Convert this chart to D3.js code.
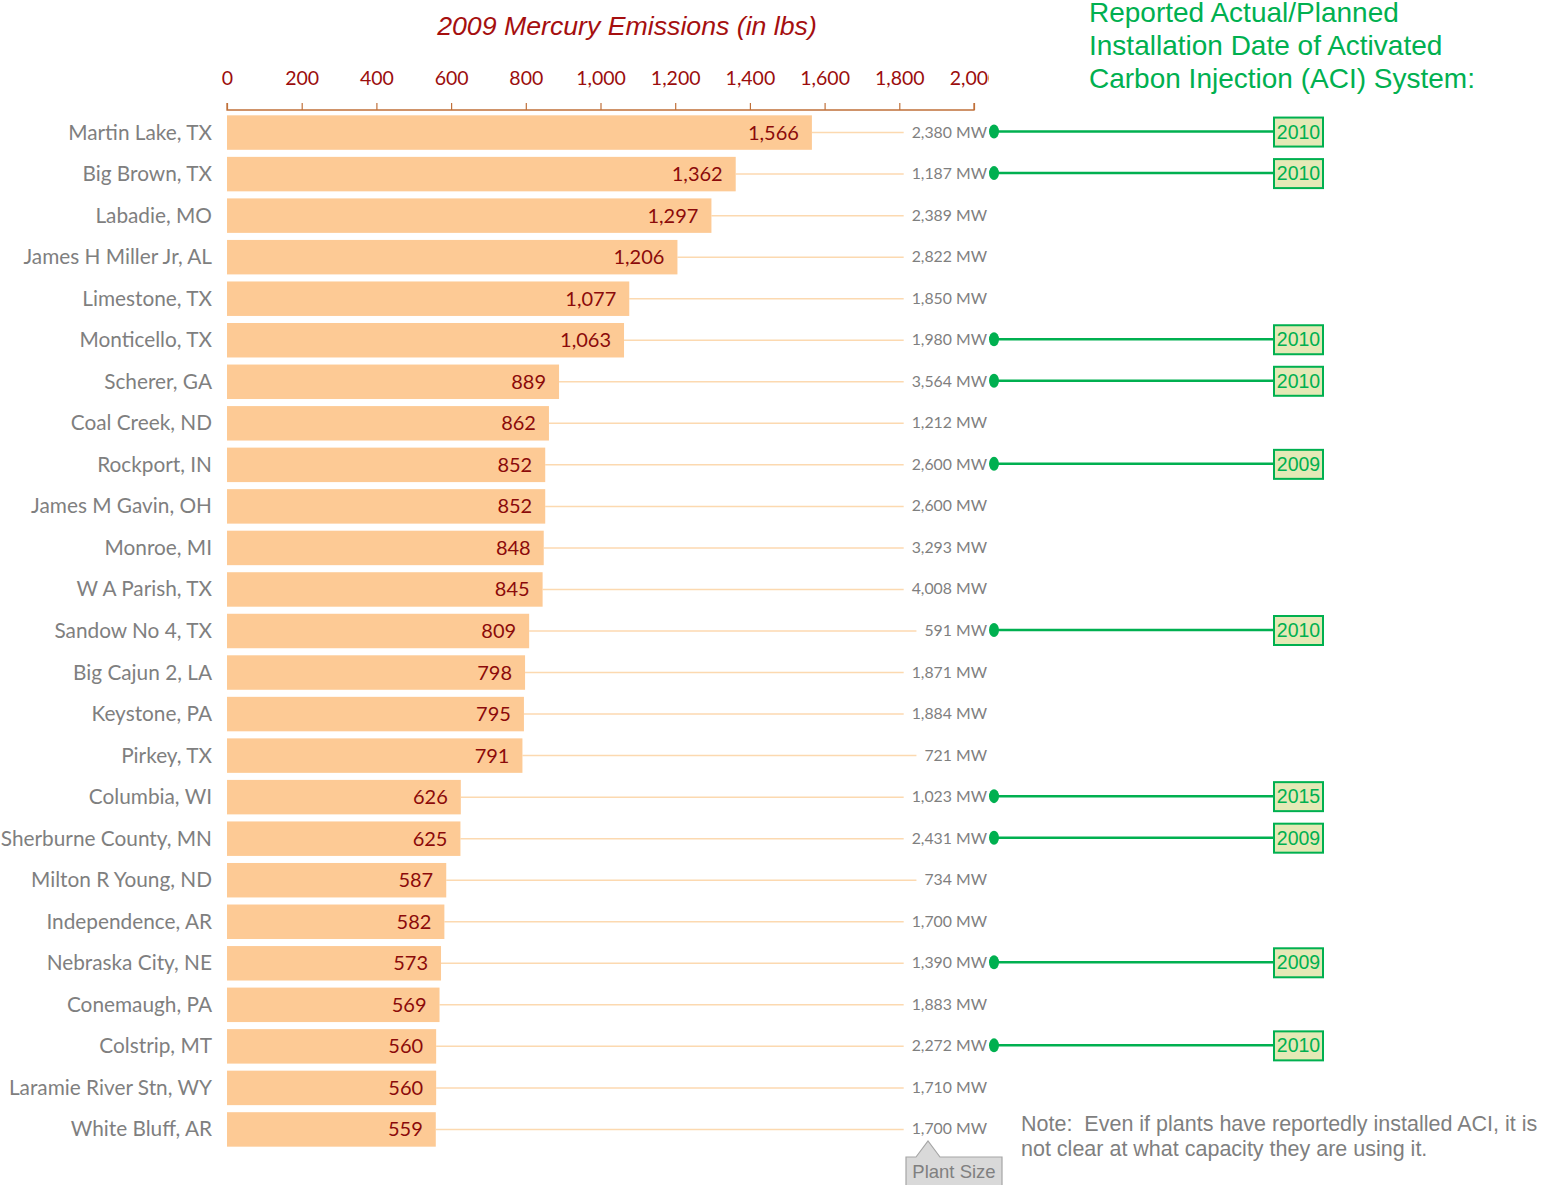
<!DOCTYPE html>
<html>
<head>
<meta charset="utf-8">
<script src="https://cdn.jsdelivr.net/npm/d3@7"></script>
<style>
  html, body { margin: 0; padding: 0; background: #fff; }
  svg { display: block; }
</style>
</head>
<body>
<svg id="chart" width="1541" height="1185"></svg>
<script>
// Plants ranked by 2009 mercury emissions
const plants = ["Martin Lake, TX", "Big Brown, TX", "Labadie, MO", "James H Miller Jr, AL", "Limestone, TX",
  "Monticello, TX", "Scherer, GA", "Coal Creek, ND", "Rockport, IN", "James M Gavin, OH", "Monroe, MI",
  "W A Parish, TX", "Sandow No 4, TX", "Big Cajun 2, LA", "Keystone, PA", "Pirkey, TX", "Columbia, WI",
  "Sherburne County, MN", "Milton R Young, ND", "Independence, AR", "Nebraska City, NE", "Conemaugh, PA",
  "Colstrip, MT", "Laramie River Stn, WY", "White Bluff, AR"];
// Mercury emissions, lbs
const emissions = [1566, 1362, 1297, 1206, 1077, 1063, 889, 862, 852, 852, 848, 845, 809, 798, 795, 791,
  626, 625, 587, 582, 573, 569, 560, 560, 559];
// Plant capacity, MW
const plantSize = [2380, 1187, 2389, 2822, 1850, 1980, 3564, 1212, 2600, 2600, 3293, 4008, 591, 1871, 1884,
  721, 1023, 2431, 734, 1700, 1390, 1883, 2272, 1710, 1700];
// Actual/planned ACI installation year (null = none reported)
const aciYear = [2010, 2010, null, null, null, 2010, 2010, null, 2009, null, null, null, 2010, null, null,
  null, 2015, 2009, null, null, 2009, null, 2010, null, null];
const xTicks = [0, 200, 400, 600, 800, 1000, 1200, 1400, 1600, 1800, 2000];

const svg = d3.select("#chart");
const fmt = d3.format(",");

const x = d3.scaleLinear().domain([0, 2000]).range([227, 974]);
const y = d3.scaleBand().domain(plants).range([112, 1150]).paddingInner(0.17).paddingOuter(0.08);

const catFont = "Lato, 'Open Sans', sans-serif";

// Title
svg.append("text")
  .attr("x", 627).attr("y", 35)
  .attr("text-anchor", "middle")
  .attr("font-family", "'Liberation Sans', Arial, sans-serif")
  .attr("font-style", "italic")
  .attr("font-size", 26.7)
  .attr("fill", "#a50f0f")
  .text("2009 Mercury Emissions (in lbs)");

// Top axis; the last label is clipped at the plot edge
svg.append("clipPath").attr("id", "axisClip")
  .append("rect").attr("x", 200).attr("y", 50).attr("width", 789).attr("height", 80);

const axisWrap = svg.append("g").attr("clip-path", "url(#axisClip)");
const axis = axisWrap.append("g")
  .attr("transform", "translate(0,110)")
  .call(d3.axisTop(x).tickValues(xTicks).tickFormat(fmt).tickSize(7).tickPadding(18));
axis.select(".domain").attr("stroke", "#c0703a").attr("stroke-width", 1.3)
  .attr("d", `M${x(0)},-7V0H${x(2000)}V-7`);
axis.selectAll(".tick line").attr("stroke", "#c0703a").attr("stroke-width", 1.2);
axis.selectAll(".tick text")
  .attr("font-family", catFont)
  .attr("font-size", 19.5)
  .attr("fill", "#9b0d0d");

const rows = svg.append("g");
const row = rows.selectAll("g.row")
  .data(plants.map((p, i) => ({ name: p, value: emissions[i], size: plantSize[i], year: aciYear[i] })))
  .join("g").attr("class", "row");

const cy = d => y(d.name) + y.bandwidth() / 2;

// Plant size labels (right aligned)
const sizeLabels = row.append("text")
  .attr("x", 987).attr("y", d => cy(d) + 5)
  .attr("text-anchor", "end")
  .attr("font-family", catFont)
  .attr("font-size", 15.8)
  .attr("fill", "#7f7f7f")
  .text(d => fmt(d.size) + " MW");

// Leader lines from bar end to size label
row.insert("line", "text")
  .attr("x1", d => x(d.value))
  .attr("x2", function(d, i) {
    const t = sizeLabels.nodes()[i];
    return 987 - t.getComputedTextLength() - 8;
  })
  .attr("y1", cy).attr("y2", cy)
  .attr("stroke", "#fcd9b0").attr("stroke-width", 1.5);

// Bars
row.append("rect")
  .attr("x", x(0))
  .attr("y", d => y(d.name))
  .attr("width", d => x(d.value) - x(0))
  .attr("height", y.bandwidth())
  .attr("fill", "#fdca95");

// Value labels inside bars
row.append("text")
  .attr("x", d => x(d.value) - 13)
  .attr("y", d => cy(d) + 7)
  .attr("text-anchor", "end")
  .attr("font-family", catFont)
  .attr("font-size", 20)
  .attr("fill", "#8b0a0a")
  .text(d => fmt(d.value));

// Category labels
row.append("text")
  .attr("x", 212)
  .attr("y", d => cy(d) + 7)
  .attr("text-anchor", "end")
  .attr("font-family", catFont)
  .attr("font-size", 20.8)
  .attr("fill", "#7f7f7f")
  .text(d => d.name);

// ACI installation connectors
const aci = row.filter(d => d.year !== null);
aci.append("line")
  .attr("x1", 993).attr("x2", 1274)
  .attr("y1", d => cy(d) - 1).attr("y2", d => cy(d) - 1)
  .attr("stroke", "#00b050").attr("stroke-width", 2.5);
aci.append("ellipse")
  .attr("cx", 994).attr("cy", d => cy(d) - 1)
  .attr("rx", 5).attr("ry", 7)
  .attr("fill", "#00b050");
aci.append("rect")
  .attr("x", 1274).attr("y", d => cy(d) - 15)
  .attr("width", 49).attr("height", 29)
  .attr("fill", "#e4e9b6").attr("stroke", "#00b050").attr("stroke-width", 2);
aci.append("text")
  .attr("x", 1298.5).attr("y", d => cy(d) + 6)
  .attr("text-anchor", "middle")
  .attr("font-family", "'Liberation Sans', Arial, sans-serif")
  .attr("font-size", 19.5)
  .attr("fill", "#00b050")
  .text(d => d.year);

// ACI heading
const headLines = ["Reported Actual/Planned", "Installation Date of Activated", "Carbon Injection (ACI) System:"];
svg.append("text")
  .attr("font-family", "'Liberation Sans', Arial, sans-serif")
  .attr("font-size", 28)
  .attr("fill", "#00b050")
  .selectAll("tspan").data(headLines).join("tspan")
  .attr("x", 1089).attr("y", (d, i) => 22 + i * 33)
  .text(d => d);

// Note
const noteLines = ["Note:\u00a0\u00a0Even if plants have reportedly installed ACI, it is", "not clear at what capacity they are using it."];
svg.append("text")
  .attr("font-family", "'Liberation Sans', Arial, sans-serif")
  .attr("font-size", 21.5)
  .attr("fill", "#7f7f7f")
  .selectAll("tspan").data(noteLines).join("tspan")
  .attr("x", 1021).attr("y", (d, i) => 1131 + i * 25)
  .text(d => d);

// "Plant Size" callout
svg.append("path")
  .attr("d", "M906,1157 H916 L928,1141 L940,1157 H1002 V1190 H906 Z")
  .attr("fill", "#d9d9d9").attr("stroke", "#a6a6a6").attr("stroke-width", 1.2);
svg.append("text")
  .attr("x", 954).attr("y", 1178)
  .attr("text-anchor", "middle")
  .attr("font-family", "'Liberation Sans', Arial, sans-serif")
  .attr("font-size", 18.5)
  .attr("fill", "#808080")
  .text("Plant Size");
</script>
</body>
</html>
